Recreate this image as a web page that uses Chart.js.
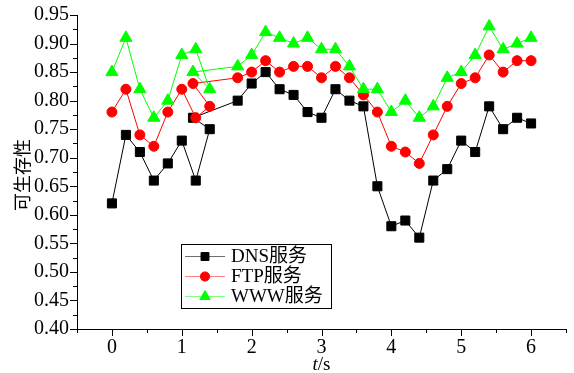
<!DOCTYPE html>
<html><head><meta charset="utf-8">
<script src="https://cdn.jsdelivr.net/npm/chart.js@4/dist/chart.umd.min.js"></script>
<style>html,body{margin:0;padding:0;background:#fff}#wrap{width:574px;height:373px;position:relative}</style>
</head><body><div id="wrap"><canvas id="c" width="574" height="373"></canvas></div>
<script>
// time axis (s) — the figure's series double back around t≈1.16
const timeS = [0,0.2,0.4,0.6,0.8,1.0,1.2,1.4,1.16,1.8,2.0,2.2,2.4,2.6,2.8,3.0,3.2,3.4,3.6,3.8,4.0,4.2,4.4,4.6,4.8,5.0,5.2,5.4,5.6,5.8,6.0];
const dnsVals = [0.62,0.74,0.71,0.66,0.69,0.73,0.66,0.75,0.77,0.80,0.83,0.85,0.82,0.81,0.78,0.77,0.82,0.80,0.79,0.65,0.58,0.59,0.56,0.66,0.68,0.73,0.71,0.79,0.75,0.77,0.76];
const ftpVals = [0.78,0.82,0.74,0.72,0.78,0.82,0.77,0.79,0.83,0.84,0.85,0.87,0.85,0.86,0.86,0.84,0.86,0.84,0.81,0.78,0.72,0.71,0.69,0.74,0.79,0.83,0.84,0.88,0.85,0.87,0.87];
const wwwVals = [0.85,0.91,0.82,0.77,0.80,0.88,0.89,0.82,0.85,0.86,0.88,0.92,0.91,0.90,0.91,0.89,0.89,0.86,0.82,0.82,0.78,0.80,0.77,0.79,0.84,0.85,0.88,0.93,0.89,0.90,0.91];
const seriesNames = ['DNS服务','FTP服务','WWW服务'];
const xTickValues = [0,1,2,3,4,5,6];
const yTitle = '可生存性';
const xTitleVar = 't';
const xTitleUnit = '/s';

const SERIF = '"Liberation Serif", "Times New Roman", "Noto Sans CJK SC", serif';
const toPts = vals => vals.map((v,i)=>({x:timeS[i], y:v}));

const legendLineColors = ['#707070','#ff8080','#80ff80'];
const legendRadius = [5.6, 4.6, 6];

const tickPlugin = {
  id:'ticksAndExtras',
  afterDraw(chart){
    const ctx = chart.ctx, xs = chart.scales.x, ys = chart.scales.y;
    const ca = chart.chartArea;
    ctx.save();
    ctx.strokeStyle = '#000'; ctx.lineWidth = 1;
    ctx.beginPath();
    for (let i=0;i<=22;i++){
      const v = 0.40 + i*0.025;
      const py = Math.round(ys.getPixelForValue(v))+0.5;
      const len = (i%2===0)?7:4;
      ctx.moveTo(ca.left-len, py); ctx.lineTo(ca.left, py);
    }
    for (let i=0;i<=14;i++){
      const v = -0.5 + i*0.5;
      const px = Math.round(xs.getPixelForValue(v))+0.5;
      const len = (i%2===1)?7:4;
      ctx.moveTo(px, ca.bottom); ctx.lineTo(px, ca.bottom+len);
    }
    ctx.stroke();
    // y title
    ctx.fillStyle = '#000';
    ctx.font = '18px ' + SERIF;
    ctx.textAlign='center'; ctx.textBaseline='middle';
    ctx.translate(24, 175); ctx.rotate(-Math.PI/2);
    ctx.fillText(yTitle, 0, 0);
    ctx.setTransform(1,0,0,1,0,0);
    // x title
    const cx = (ca.left+ca.right)/2, cy = 365;
    ctx.font = 'italic 19px ' + SERIF;
    const w1 = ctx.measureText(xTitleVar).width;
    ctx.font = '19px ' + SERIF;
    const w2 = ctx.measureText(xTitleUnit).width;
    let sx = cx - (w1+w2)/2;
    ctx.textAlign='left';
    ctx.font = 'italic 19px ' + SERIF;
    ctx.fillText(xTitleVar, sx, cy);
    ctx.font = '19px ' + SERIF;
    ctx.fillText(xTitleUnit, sx+w1, cy);
    // legend
    ctx.strokeStyle='#000'; ctx.lineWidth=1;
    ctx.strokeRect(181.5, 244.5, 150, 64);
    const rows = [256.5, 276.5, 296.5];
    chart.data.datasets.forEach((ds,i)=>{
      const y = rows[i];
      ctx.strokeStyle = legendLineColors[i]; ctx.lineWidth = 1;
      ctx.beginPath(); ctx.moveTo(185,y); ctx.lineTo(225,y); ctx.stroke();
      ctx.fillStyle = ds.pointBackgroundColor; ctx.strokeStyle = ds.pointBorderColor;
      Chart.helpers.drawPoint(ctx, {pointStyle: ds.pointStyle, radius: legendRadius[i], rotation:0, borderWidth:1}, 205, y);
      ctx.fillStyle='#000'; ctx.font='19px ' + SERIF; ctx.textAlign='left'; ctx.textBaseline='middle';
      ctx.fillText(ds.label, 231, y+1);
    });
    ctx.restore();
  }
};

new Chart(document.getElementById('c'), {
  type:'line',
  data:{ datasets:[
    {label:seriesNames[0], data:toPts(dnsVals), borderColor:'#000000', backgroundColor:'#000000', pointBackgroundColor:'#000000', pointBorderColor:'#000000', pointStyle:'rect', pointRadius:6.4, borderWidth:1, order:3},
    {label:seriesNames[1], data:toPts(ftpVals), borderColor:'#ff0000', backgroundColor:'#ff0000', pointBackgroundColor:'#ff0000', pointBorderColor:'#ff0000', pointStyle:'circle', pointRadius:5, borderWidth:1, order:2},
    {label:seriesNames[2], data:toPts(wwwVals), borderColor:'#00ff00', backgroundColor:'#00ff00', pointBackgroundColor:'#00ff00', pointBorderColor:'#00ff00', pointStyle:'triangle', pointRadius:7, borderWidth:1, order:1}
  ]},
  options:{
    responsive:false, devicePixelRatio:1, animation:false,
    layout:{padding:{top:15, right:6, left:0, bottom:0}},
    plugins:{legend:{display:false}, tooltip:{enabled:false}},
    elements:{line:{tension:0}, point:{pointBorderWidth:1}},
    scales:{
      x:{type:'linear', min:-0.5, max:6.5,
        afterFit:s=>{s.height=44; s.paddingLeft=0; s.paddingRight=0;},
        afterBuildTicks:s=>{ s.ticks = xTickValues.map(v=>({value:v})); },
        grid:{drawOnChartArea:false, drawTicks:false},
        border:{display:true, color:'#000', width:1},
        ticks:{color:'#000', font:{family:SERIF, size:20}, padding:7, maxRotation:0, autoSkip:false}
      },
      y:{min:0.40, max:0.95,
        afterFit:s=>{s.width=77; s.paddingTop=0; s.paddingBottom=0;},
        grid:{drawOnChartArea:false, drawTicks:false},
        border:{display:true, color:'#000', width:1},
        ticks:{stepSize:0.05, color:'#000', font:{family:SERIF, size:20}, padding:8,
          callback:v=>Number(v).toFixed(2)}
      }
    }
  },
  plugins:[tickPlugin]
});
</script></body></html>
